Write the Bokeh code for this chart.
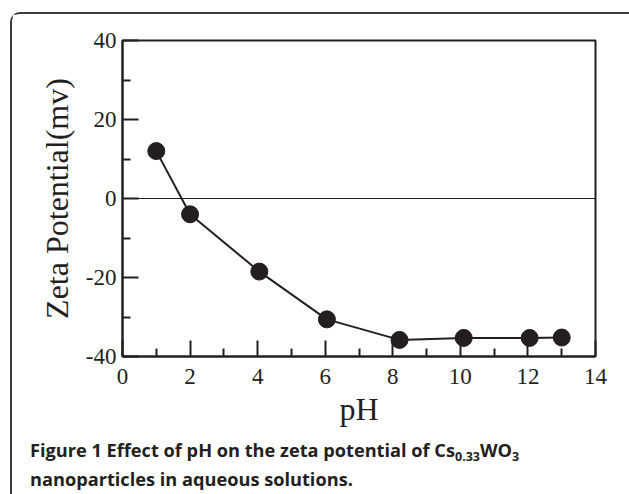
from bokeh.plotting import figure
from bokeh.layouts import column
from bokeh.models import Span, Div, FixedTicker, Range1d
from bokeh.embed import file_html
from bokeh.resources import INLINE

# Zeta potential of Cs0.33WO3 nanoparticles versus pH
ph = [1.0, 2.0, 4.05, 6.05, 8.2, 10.1, 12.05, 13.0]
zeta = [12.0, -4.0, -18.5, -30.6, -35.8, -35.3, -35.3, -35.2]

x_ticks = [0, 2, 4, 6, 8, 10, 12, 14]
x_minor = [1, 3, 5, 7, 9, 11, 13]
y_ticks = [-40, -20, 0, 20, 40]
y_minor = [-30, -10, 10, 30]

INK = "#231f20"
SERIF = "Liberation Serif"
SANS = "Open Sans"

p = figure(width=615, height=423, output_backend="svg", toolbar_location=None,
           x_range=Range1d(0, 14), y_range=Range1d(-40, 40),
           min_border_left=110, min_border_right=32,
           min_border_top=26, min_border_bottom=81)
p.background_fill_color = "white"
p.border_fill_color = "white"
p.xgrid.visible = False
p.ygrid.visible = False
p.outline_line_color = INK
p.outline_line_width = 2

for ax in (p.xaxis[0], p.yaxis[0]):
    ax.axis_line_color = INK
    ax.axis_line_width = 2
    ax.major_tick_line_color = INK
    ax.major_tick_line_width = 2
    ax.minor_tick_line_color = INK
    ax.minor_tick_line_width = 2
    ax.major_tick_in = 16
    ax.major_tick_out = 0
    ax.minor_tick_in = 8
    ax.minor_tick_out = 0
    ax.major_label_text_font = SERIF
    ax.major_label_text_font_size = "23px"
    ax.major_label_text_color = INK
    ax.axis_label_text_font = SERIF
    ax.axis_label_text_font_style = "normal"
    ax.axis_label_text_font_size = "32px"
    ax.axis_label_text_color = INK

p.xaxis.ticker = FixedTicker(ticks=x_ticks, minor_ticks=x_minor)
p.yaxis.ticker = FixedTicker(ticks=y_ticks, minor_ticks=y_minor)
# plain hyphen for negative tick labels
p.yaxis.major_label_overrides = {t: str(t) for t in y_ticks}
p.xaxis.axis_label = "pH"
p.yaxis.axis_label = "Zeta Potential(mv)"
p.xaxis.major_label_standoff = 12
p.yaxis.major_label_standoff = 6
p.xaxis.axis_label_standoff = 4
p.yaxis.axis_label_standoff = 8

# zero reference line
p.add_layout(Span(location=0, dimension="width", line_color=INK, line_width=1))

p.line(ph, zeta, line_color=INK, line_width=2)
p.scatter(ph, zeta, size=17, fill_color=INK, line_color=INK)

sub = '<span style="font-size:12.5px; position:relative; top:4px;">{}</span>'
caption = Div(
    text=("Figure 1 Effect of pH on the zeta potential of Cs" + sub.format("0.33")
          + "WO" + sub.format("3") + "<br>nanoparticles in aqueous solutions."),
    width=615, height=55,
    styles={"font-family": SANS, "font-weight": "bold", "font-size": "18.2px",
            "line-height": "27px", "color": INK, "padding-left": "13px",
            "margin-top": "0px", "box-sizing": "border-box"},
)

panel = column(p, caption, margin=(12, 0, 0, 10), spacing=0,
               styles={"border-top": "2px solid #3a3a3a",
                       "border-left": "2px solid #3a3a3a",
                       "border-right": "2px solid #3a3a3a",
                       "border-top-left-radius": "10px",
                       "border-top-right-radius": "10px"})

open("out.html", "w").write(file_html(panel, INLINE))
